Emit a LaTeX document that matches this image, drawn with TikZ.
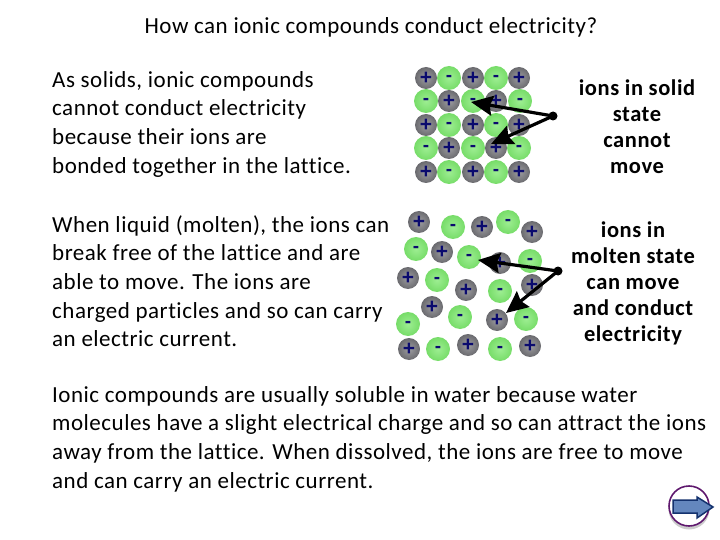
\documentclass[tikz,border=0pt]{standalone}
\usepackage{fontspec}
\setmainfont[LetterSpace=2.2,Ligatures=NoCommon]{Carlito}
\newfontfamily\labelfont[LetterSpace=2.5,Ligatures=NoCommon]{Carlito}
\newfontfamily\signfont{Liberation Sans}
\usetikzlibrary{arrows.meta}
\definecolor{ionnavy}{RGB}{10,10,110}
\definecolor{iongrey}{RGB}{125,125,130}
\definecolor{iongreen}{RGB}{125,232,110}
\definecolor{btnblue}{RGB}{100,135,190}
\definecolor{btnline}{RGB}{20,50,110}
\definecolor{btnring}{RGB}{95,25,110}
\tikzset{
  ionpos/.style={circle, minimum size=22pt, inner sep=0pt, shade, inner color=iongrey!75!white, outer color=iongrey!85!black, text=ionnavy, font=\signfont\bfseries\fontsize{21}{21}\selectfont},
  ionneg/.style={circle, minimum size=24pt, inner sep=0pt, shade, inner color=iongreen!75!white, outer color=iongreen!95!black, text=ionnavy, font=\signfont\bfseries\fontsize{19}{19}\selectfont},
  para/.style={anchor=north west, align=left, inner sep=0pt, font=\fontsize{23}{28.7}\selectfont},
  ionlabel/.style={align=center, inner sep=0pt, font=\labelfont\bfseries\fontsize{22.5}{26}\selectfont},
  pointer/.style={line width=3.2pt, -{Stealth[length=22pt,width=20pt,inset=3pt]}},
  pin/.style={circle, fill=black, inner sep=0pt, minimum size=9pt}
}
\begin{document}
\begin{tikzpicture}[x=1pt, y=-1pt]
    \useasboundingbox (0,0) rectangle (720,540);

    \node[para, anchor=center, font=\fontsize{23}{24}\selectfont] (title) at (371,27) {How can ionic compounds conduct electricity?};

    \node[para] (solidtext) at (52,71) {As solids, ionic compounds\\cannot conduct electricity\\because their ions are\\bonded together in the lattice.};
    \node[para] (moltentext) at (52,215) {When liquid (molten), the ions can\\break free of the lattice and are\\able to move. The ions are\\charged particles and so can carry\\an electric current.};
    \node[para] (watertext) at (52,386) {Ionic compounds are usually soluble in water because water\\molecules have a slight electrical charge and so can attract the ions\\away from the lattice. When dissolved, the ions are free to move\\and can carry an electric current.};

    \node[ionlabel] (solidlabel) at (637,127) {ions in solid\\state\\cannot\\move};
    \node[ionlabel] (moltenlabel) at (633,283) {ions in\\molten state\\can move\\and conduct\\electricity};

    % solid lattice
    \foreach \x/\y in {426/78, 473/78, 519/78, 449/101, 426/125, 473/125, 519/125, 449/148, 496/148, 426/172, 473/172, 519/172, 496/101}
        \node[ionpos] (sp\x\y) at (\x,\y) {+};
    \foreach \x/\y in {449/78, 496/78, 426/101, 473/101, 520/101, 449/125, 496/125, 426/148, 473/148, 519/148, 449/172, 496/172}
        \node[ionneg] (sn\x\y) at (\x,\y) {-};

    % molten ions
    \foreach \x/\y in {419/222, 482/227, 532/232, 442/252, 500/263, 408/278, 466/290, 532/285, 432/307, 497/320, 409/349, 468/345, 530/346}
        \node[ionpos] (mp\x\y) at (\x,\y) {+};
    \foreach \x/\y in {453/227, 508/222, 416/249, 469/257, 530/261, 437/280, 500/291, 460/317, 526/319, 408/324, 438/349, 500/349}
        \node[ionneg] (mn\x\y) at (\x,\y) {-};

    % pointers
    \node[pin] (solidpin) at (553,116) {};
    \coordinate (solidtipa) at (471,102);
    \coordinate (solidtipb) at (491,144);
    \draw[pointer] (solidpin.center) -- (solidtipa);
    \draw[pointer] (solidpin.center) -- (solidtipb);

    \node[pin] (moltenpin) at (558,271) {};
    \coordinate (moltentipa) at (478,260);
    \coordinate (moltentipb) at (506,313);
    \draw[pointer] (moltenpin.center) -- (moltentipa);
    \draw[pointer] (moltenpin.center) -- (moltentipb);

    % next button
    \draw[black!20, line width=3pt] (689,509) circle (19);
    \draw[btnring, line width=1.6pt, fill=white] (689,506) circle (20);
    \draw[btnline, line width=1.5pt, fill=btnblue] (673,500) -- (697,500) -- (697,497) -- (713,507) -- (697,518) -- (697,513) -- (673,513) -- cycle;
\end{tikzpicture}
\end{document}
